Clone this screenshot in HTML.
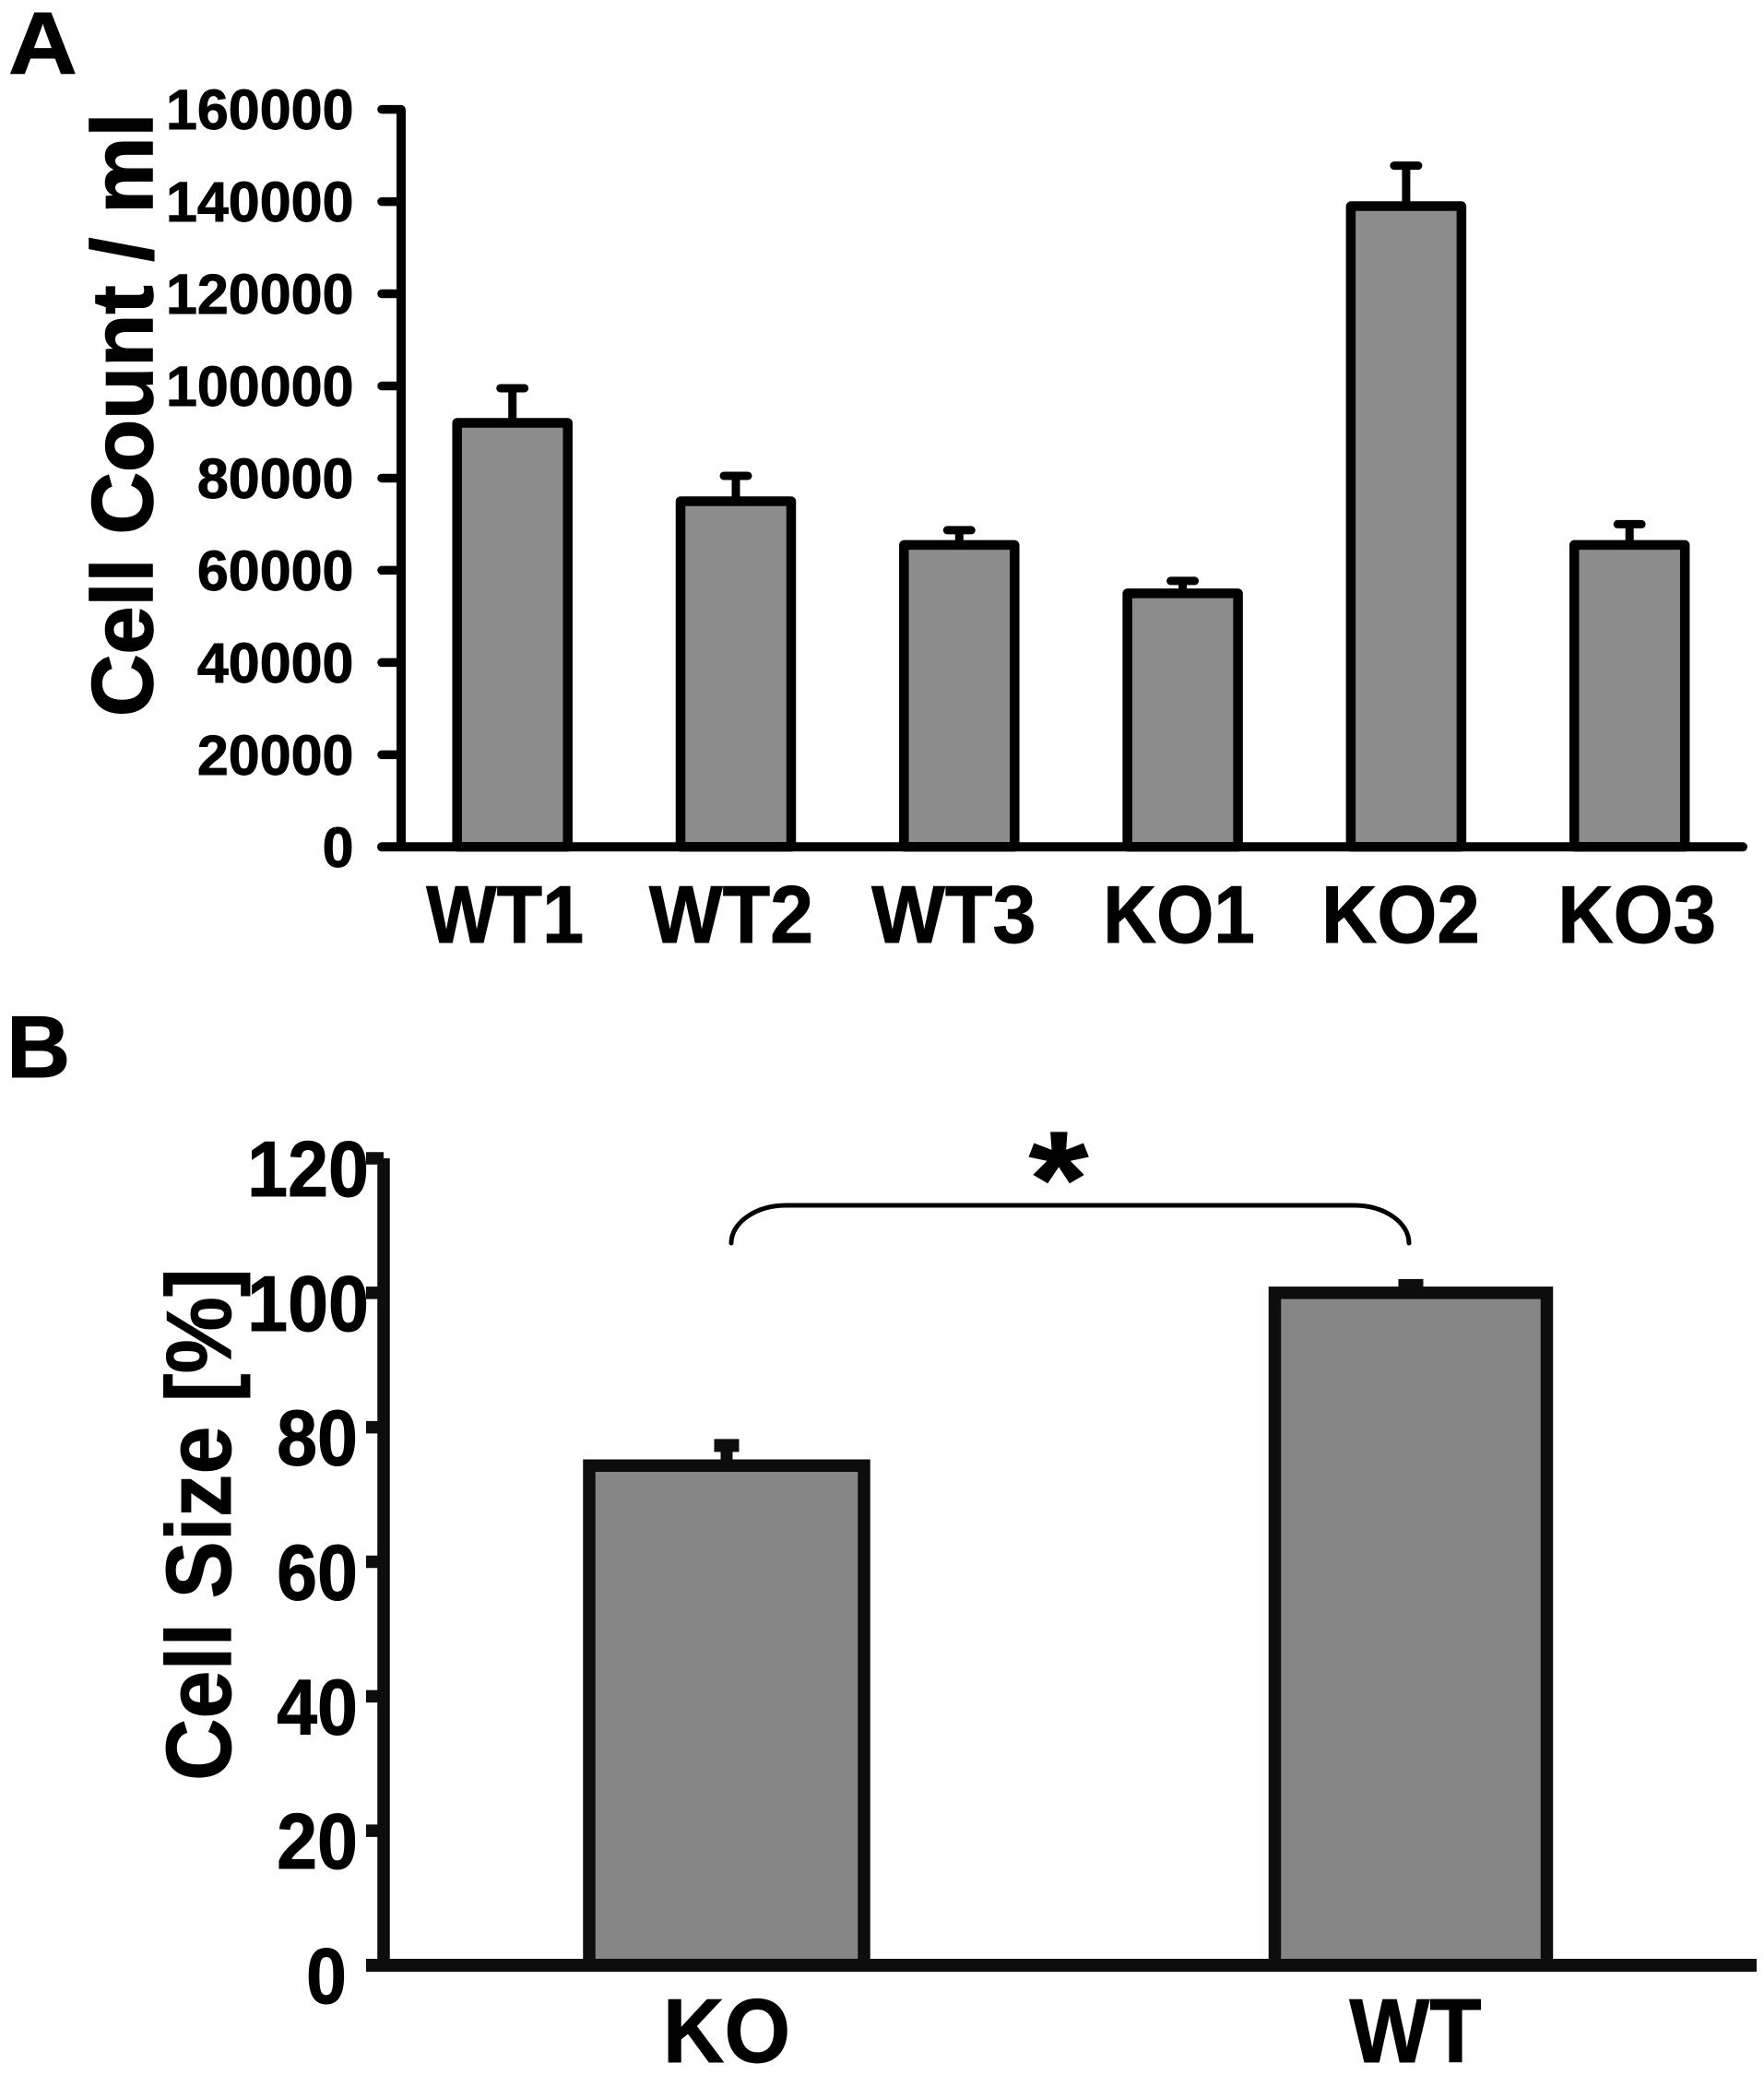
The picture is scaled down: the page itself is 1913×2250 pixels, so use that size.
<!DOCTYPE html>
<html lang="en">
<head>
<meta charset="utf-8">
<title>Cell count and cell size bar charts</title>
<style>
html,body{margin:0;padding:0;background:#fff}
svg{display:block}
text{font-family:"Liberation Sans",Arial,sans-serif;font-weight:700;fill:#000;stroke:#000;stroke-width:0.9px}
</style>
</head>
<body>
<svg id="figure" xmlns="http://www.w3.org/2000/svg" width="1913" height="2250" viewBox="0 0 1913 2250">
  <rect x="0" y="0" width="1913" height="2250" fill="#fff"/>
  <text transform="translate(9 80) scale(1.08 1)" font-size="96">A</text>
  <text x="7" y="1168" font-size="96">B</text>
  <text transform="translate(165 777) rotate(-90)" font-size="93.5" style="stroke-width:1.6px">Cell Count / ml</text>
  <text transform="translate(250 1931) rotate(-90) scale(0.935 1)" font-size="100">Cell Size [%]</text>
  <g id="chart-a"></g>
  <g id="chart-b"></g>
  <path d="M793 1348 C793 1326 819 1307 853 1307 L1468 1307 C1502 1307 1528 1326 1528 1348" fill="none" stroke="#000" stroke-width="5" stroke-linecap="round"/>
  <text transform="translate(1148 1329) scale(1.13 1)" font-size="147" text-anchor="middle">*</text>
</svg>
<script>
const categoriesA = ['WT1', 'WT2', 'WT3', 'KO1', 'KO2', 'KO3'];
const valuesA = [92000, 75000, 65500, 55000, 139000, 65500];
const errorTopsA = [99500, 80500, 68700, 57700, 147800, 70000];
const ticksA = [0, 20000, 40000, 60000, 80000, 100000, 120000, 140000, 160000];
const categoriesB = ['KO', 'WT'];
const valuesB = [74.3, 100];
const errorTopsB = [77.3, 101.1];
const ticksB = [0, 20, 40, 60, 80, 100, 120];

const SVGNS = 'http://www.w3.org/2000/svg';
const groupA = document.getElementById('chart-a');
const groupB = document.getElementById('chart-b');

function mk(parent, tag, attrs, text) {
  const el = document.createElementNS(SVGNS, tag);
  for (const k in attrs) el.setAttribute(k, attrs[k]);
  if (text !== undefined) el.textContent = text;
  parent.appendChild(el);
  return el;
}

/* Panel A scales */
function yA(v) { return 918.3 - v * (799.7 / 160000); }
function xA(i) { return 555.7 + i * 242.3; }
const labelShiftA = [-8, -5, -6, -4, -6, 8];
const labelSquishA = [0.92, 0.96, 0.96, 0.91, 0.95, 0.95];

ticksA.forEach(function (t) {
  const tick = mk(groupA, 'line', { x1: 414, x2: 435, y1: yA(t), y2: yA(t), stroke: '#000', 'stroke-width': 9.5, 'stroke-linecap': 'round' });
  
  
  const lab = mk(groupA, 'text', { x: 383.5, y: yA(t) + 21.5, 'font-size': 61, 'text-anchor': 'end' }, String(t));
  
  
});

categoriesA.forEach(function (c, i) {
  const cx = xA(i);
  const stem = mk(groupA, 'line', { x1: cx, x2: cx, y1: yA(errorTopsA[i]), y2: yA(valuesA[i]), stroke: '#000', 'stroke-width': 9 });
  
  
  const cap = mk(groupA, 'line', { x1: cx - 13, x2: cx + 13, y1: yA(errorTopsA[i]), y2: yA(errorTopsA[i]), stroke: '#000', 'stroke-width': 9, 'stroke-linecap': 'round' });
  
  
  const bar = mk(groupA, 'rect', { x: cx - 60, y: yA(valuesA[i]), width: 120, height: yA(0) - yA(valuesA[i]), fill: '#8c8c8c', stroke: '#000', 'stroke-width': 10.5, 'stroke-linejoin': 'round' });
  
  
  const lab = mk(groupA, 'text', { transform: 'translate(' + (cx + labelShiftA[i]) + ' 1022) scale(' + labelSquishA[i] + ' 1)', 'font-size': 88, 'text-anchor': 'middle' }, c);
  
  
});

const yAxisA = mk(groupA, 'line', { x1: 435, x2: 435, y1: yA(160000), y2: yA(0), stroke: '#000', 'stroke-width': 10 });


const xAxisA = mk(groupA, 'line', { x1: 414, x2: 1890, y1: yA(0), y2: yA(0), stroke: '#000', 'stroke-width': 10, 'stroke-linecap': 'round' });



/* Panel B scales */
function yB(v) { return 2131 - v * (875 / 120); }
function xB(i) { return 788 + i * 742; }
const INK_B = '#0d0d0d';
const labelShiftB = [0, 5];
const barInnerWidthB = [298, 295];

ticksB.forEach(function (t) {
  const tick = mk(groupB, 'line', { x1: 397, x2: 416, y1: yB(t), y2: yB(t), stroke: INK_B, 'stroke-width': 13.5 });
  
  
  const label = String(t);
  const lab = mk(groupB, 'text', { transform: 'translate(' + (364 + 12 * label.length) + ' ' + (yB(t) + 41) + ') scale(0.93 1)', 'font-size': 85, 'text-anchor': 'end' }, label);
  
  
});

categoriesB.forEach(function (c, i) {
  const cx = xB(i);
  const w = barInnerWidthB[i];
  const stem = mk(groupB, 'line', { x1: cx, x2: cx, y1: yB(errorTopsB[i]), y2: yB(valuesB[i]), stroke: INK_B, 'stroke-width': 13 });
  
  
  const cap = mk(groupB, 'line', { x1: cx - 13.5, x2: cx + 13.5, y1: yB(errorTopsB[i]), y2: yB(errorTopsB[i]), stroke: INK_B, 'stroke-width': 14 });
  
  
  const bar = mk(groupB, 'rect', { x: cx - w / 2, y: yB(valuesB[i]), width: w, height: yB(0) - yB(valuesB[i]), fill: '#868686', stroke: INK_B, 'stroke-width': 13.5 });
  
  
  const lab = mk(groupB, 'text', { transform: 'translate(' + (cx + labelShiftB[i]) + ' 2236) scale(0.94 1)', 'font-size': 98, 'text-anchor': 'middle' }, c);
  
  
});

const yAxisB = mk(groupB, 'line', { x1: 416, x2: 416, y1: yB(120), y2: yB(0), stroke: INK_B, 'stroke-width': 13.5 });


const xAxisB = mk(groupB, 'line', { x1: 397, x2: 1905, y1: yB(0), y2: yB(0), stroke: INK_B, 'stroke-width': 14 });


</script>
</body>
</html>
